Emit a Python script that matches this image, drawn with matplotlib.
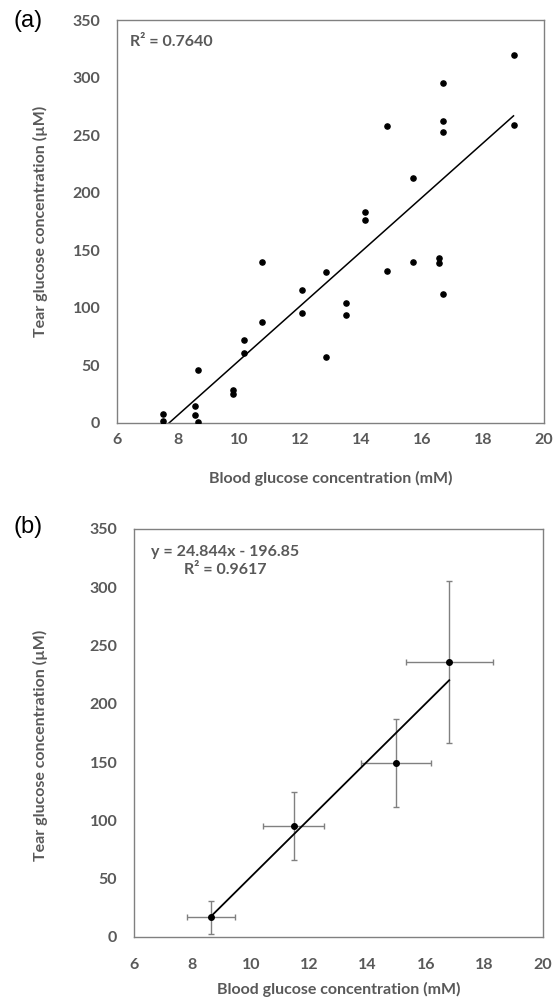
import numpy as np
import matplotlib
matplotlib.use("Agg")
import matplotlib.pyplot as plt

plt.rcParams["font.family"] = ["Lato", "DejaVu Sans"]

# (a) individual measurements
blood_a = [7.51, 7.51, 8.57, 8.57, 8.67, 8.67, 9.79, 9.79, 10.17, 10.17,
           10.74, 10.74, 12.05, 12.05, 12.85, 12.85, 13.51, 13.51, 14.13, 14.13,
           14.84, 14.84, 15.69, 15.69, 16.56, 16.56, 16.68, 16.68, 16.68, 16.68,
           19.0, 19.0]
tear_a = [7.8, 1.4, 15.0, 7.2, 0.6, 45.7, 28.9, 25.2, 72.0, 60.5,
          140.0, 87.9, 115.4, 95.7, 131.0, 57.6, 104.4, 94.0, 183.0, 176.7,
          258.0, 132.2, 213.2, 139.7, 142.9, 138.8, 295.3, 262.7, 252.5, 112.0,
          319.3, 258.6]

# (b) group means with standard deviations
blood_b = [8.64, 11.46, 14.97, 16.79]
blood_b_err = [0.81, 1.06, 1.21, 1.49]
tear_b = [16.9, 95.1, 149.1, 236.0]
tear_b_err = [14.2, 29.3, 37.6, 69.5]
slope_b, icpt_b = 24.844, -196.85

TXT = "#595959"
SPINE = "#808080"
FS = 11.5
xticks = [6, 8, 10, 12, 14, 16, 18, 20]
yticks = [0, 50, 100, 150, 200, 250, 300, 350]

fig = plt.figure(figsize=(5.53, 9.99), dpi=100)
ax1 = fig.add_axes([117 / 553, 1 - 423 / 999, 427 / 553, 403 / 999])
ax2 = fig.add_axes([134 / 553, 1 - 937 / 999, 409 / 553, 408 / 999])


def style(ax, xpad):
    ax.set_xlim(6, 20)
    ax.set_ylim(0, 350)
    ax.set_xticks(xticks)
    ax.set_yticks(yticks)
    for s in ax.spines.values():
        s.set_color(SPINE)
        s.set_linewidth(1.0)
    ax.tick_params(axis="both", length=0, labelsize=FS, labelcolor=TXT)
    ax.tick_params(axis="y", pad=12)
    ax.tick_params(axis="x", pad=xpad)
    for lab in ax.get_xticklabels() + ax.get_yticklabels():
        lab.set_fontweight("bold")
    ax.set_xlabel("Blood glucose concentration (mM)", fontsize=FS,
                  fontweight="bold", color=TXT)
    ax.set_ylabel("Tear glucose concentration (µM)", fontsize=FS,
                  fontweight="bold", color=TXT)


def fig_xy(px, py):
    return px / 553, 1 - py / 999


# (a)
style(ax1, 7)
ax1.scatter(blood_a, tear_a, s=14, color="black", zorder=3)
k, b = np.polyfit(blood_a, tear_a, 1)
xs = np.array([min(blood_a), max(blood_a)])
ax1.plot(xs, k * xs + b, color="black", lw=1.1)
ax1.text(*fig_xy(130, 42), "R² = 0.7640", transform=fig.transFigure,
         fontsize=FS, fontweight="bold", color=TXT, va="center", ha="left")
ax1.xaxis.set_label_coords(0.5, -0.118)
ax1.yaxis.set_label_coords(-69 / 427, 0.5)
fig.text(*fig_xy(28, 21), "(a)", fontsize=17, family="Liberation Sans",
         ha="center", va="center")

# (b)
style(ax2, 15)
ax2.errorbar(blood_b, tear_b, xerr=blood_b_err, yerr=tear_b_err, fmt="none",
             ecolor="#808080", elinewidth=1.0, capsize=2, capthick=1.0, zorder=2)
ax2.scatter(blood_b, tear_b, s=16, color="black", zorder=3)
xs = np.array([min(blood_b), max(blood_b)])
ax2.plot(xs, slope_b * xs + icpt_b, color="black", lw=1.3, zorder=2.5)
ax2.text(*fig_xy(225, 561), "y = 24.844x - 196.85\nR² = 0.9617",
         transform=fig.transFigure, fontsize=FS, fontweight="bold", color=TXT,
         ha="center", va="center", multialignment="center", linespacing=1.35)
ax2.xaxis.set_label_coords(0.5, -0.11)
ax2.yaxis.set_label_coords(-86 / 409, 0.47)
fig.text(*fig_xy(28, 527), "(b)", fontsize=17, family="Liberation Sans",
         ha="center", va="center")

fig.savefig("out.png", dpi=100)
